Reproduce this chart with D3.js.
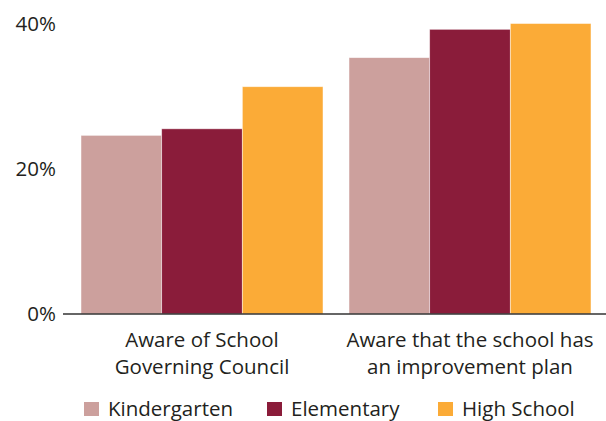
<!DOCTYPE html>
<html>
<head>
<meta charset="utf-8">
<script src="https://cdn.jsdelivr.net/npm/d3@7"></script>
<style>
  html, body { margin: 0; padding: 0; background: #fff; }
  svg { display: block; font-family: "Open Sans", sans-serif; }
</style>
</head>
<body>
<svg id="chart" width="606" height="421"></svg>
<script>
const categories = [["Aware of School", "Governing Council"], ["Aware that the school has", "an improvement plan"]];
const categoryKeys = ["council", "plan"];
const seriesNames = ["Kindergarten", "Elementary", "High School"];
const kindergarten = [24.6, 35.3];
const elementary = [25.5, 39.2];
const highSchool = [31.3, 40.0];
const yTicks = [0, 20, 40];
const colors = ["#cca09d", "#8a1c3a", "#fbab37"];

const seriesValues = [kindergarten, elementary, highSchool];
const svg = d3.select("#chart");
const textColor = "#231f20";
const fontSize = "20.5px";

const y = d3.scaleLinear().domain([0, 40]).range([314, 23.5]);
const x0 = d3.scaleBand().domain(categoryKeys).range([68, 604]).paddingInner(0.097).paddingOuter(0.0485);
const x1 = d3.scaleBand().domain(seriesNames).range([0, x0.bandwidth()]).padding(0);

// bars
categoryKeys.forEach((key, ci) => {
  const g = svg.append("g").attr("transform", `translate(${x0(key)},0)`);
  seriesNames.forEach((s, si) => {
    const v = seriesValues[si][ci];
    g.append("rect")
      .attr("x", x1(s))
      .attr("y", y(v))
      .attr("width", x1.bandwidth())
      .attr("height", y(0) - y(v))
      .attr("fill", colors[si])
      .attr("stroke", "#fff")
      .attr("stroke-opacity", 0.6)
      .attr("stroke-width", 0.8);
  });
});

// y axis labels
const yAxis = d3.axisLeft(y).tickValues(yTicks).tickFormat(d => d + "%").tickSize(0).tickPadding(0);
const yg = svg.append("g").attr("transform", "translate(56,0)").call(yAxis);
yg.select(".domain").remove();
yg.selectAll("text").attr("fill", textColor).style("font-size", fontSize).style("font-family", "'Open Sans', sans-serif");

// x axis line
svg.append("line").attr("x1", 63).attr("x2", 606).attr("y1", 314).attr("y2", 314)
  .attr("stroke", "#333").attr("stroke-width", 1.4);

// category labels
categoryKeys.forEach((key, ci) => {
  const cx = x0(key) + x0.bandwidth() / 2;
  const t = svg.append("text").attr("x", cx).attr("y", 347).attr("text-anchor", "middle")
    .attr("fill", textColor).style("font-size", fontSize);
  categories[ci].forEach((line, li) => {
    t.append("tspan").attr("x", cx).attr("dy", li === 0 ? 0 : 27).text(line);
  });
});

// legend
const legendX = [84, 267, 438];
seriesNames.forEach((s, si) => {
  const g = svg.append("g").attr("transform", `translate(${legendX[si]},402)`);
  g.append("rect").attr("width", 15).attr("height", 14).attr("fill", colors[si]);
  g.append("text").attr("x", 24).attr("y", 13.5).attr("fill", textColor)
    .style("font-size", fontSize).text(s);
});
</script>
</body>
</html>
